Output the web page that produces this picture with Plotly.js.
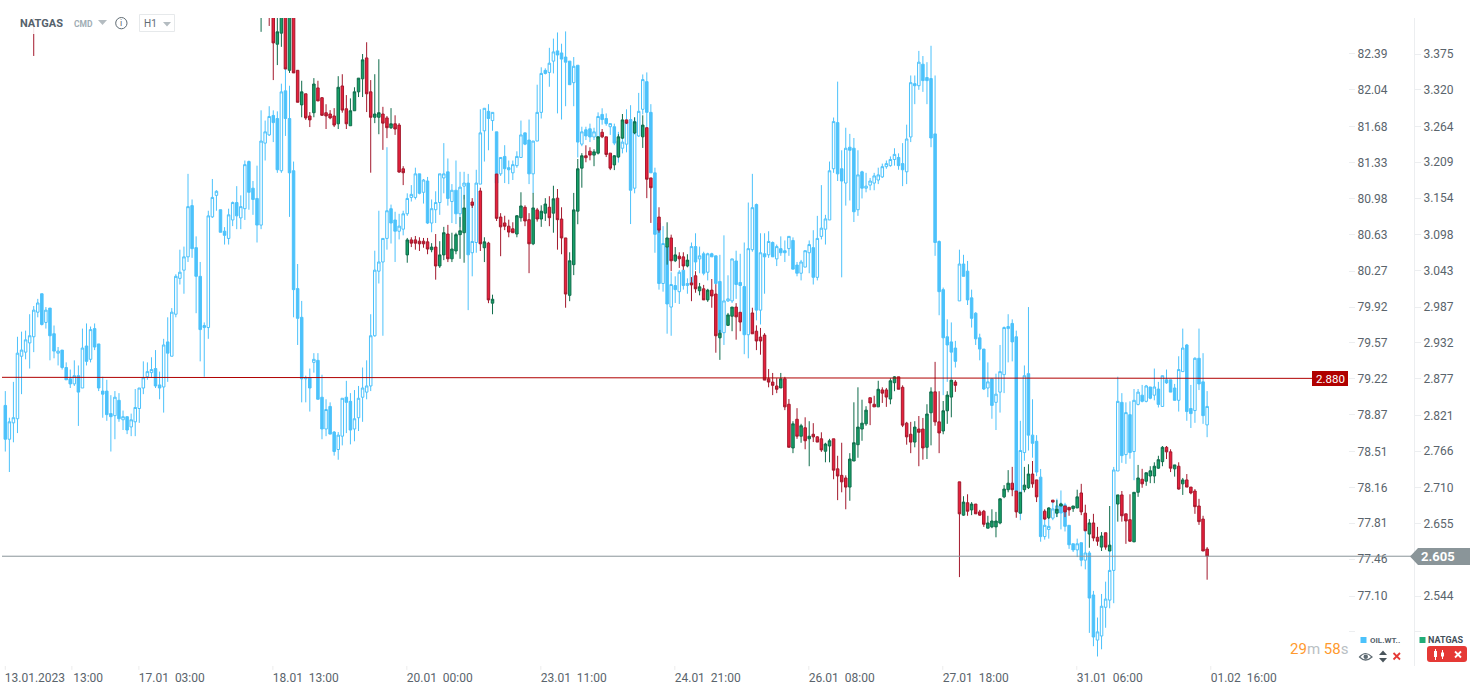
<!DOCTYPE html>
<html>
<head>
<meta charset="utf-8">
<title>NATGAS H1</title>
<script src="https://cdn.plot.ly/plotly-3.0.1.min.js"></script>
<style>html,body{margin:0;padding:0;background:#fff;overflow:hidden}</style>
</head>
<body>
<div id="chart" style="width:1482px;height:694px"></div>
<script>
// OIL.WTI hourly candles, one per bar starting at bar 0
const oilOpen = [78.96,78.63,78.79,78.83,79.44,79.48,79.57,79.63,79.87,80.05,
79.77,79.91,79.66,79.47,79.50,79.33,79.22,79.17,79.25,79.13,
79.54,79.41,79.71,79.56,79.10,79.10,78.88,78.86,79.01,78.82,
78.85,78.75,78.80,78.93,79.13,79.24,79.28,79.32,79.16,79.14,
79.58,79.44,79.85,80.20,80.28,80.41,80.91,80.50,80.22,79.72,
79.72,80.80,81.01,80.87,80.66,80.59,80.77,80.94,80.79,80.88,
81.34,81.08,80.98,80.72,81.52,81.60,81.79,81.76,81.25,82.03,
81.76,81.25,80.10,79.82,79.22,79.23,79.38,79.40,79.04,78.73,
78.95,78.70,78.53,78.66,79.04,79.00,78.73,78.84,79.04,79.09,
79.15,79.64,80.27,80.36,80.59,80.88,80.77,80.66,80.68,80.83,
80.99,80.99,81.22,81.04,81.15,80.74,80.87,80.94,81.18,81.24,
80.95,81.06,80.83,81.10,81.13,80.45,80.55,81.12,81.64,81.83,
81.74,81.63,81.22,81.39,81.28,81.23,81.30,81.38,81.62,81.55,
81.22,81.54,81.82,82.23,82.21,82.32,82.42,82.40,82.36,82.32,
82.11,82.28,81.51,81.65,81.66,81.58,81.58,81.80,81.76,81.68,
81.68,81.54,81.47,81.51,81.75,81.08,81.59,81.85,82.12,81.82,
81.23,80.74,80.15,80.51,79.92,80.13,80.07,80.28,80.13,80.15,
80.51,80.39,80.44,80.26,80.44,80.42,80.17,79.67,79.98,79.98,
80.37,80.16,80.12,79.65,80.48,80.92,79.89,80.44,80.43,80.55,
80.39,80.49,80.47,80.49,80.57,80.33,80.25,80.31,80.45,80.50,
80.21,80.61,80.68,80.77,81.27,81.72,81.27,81.13,81.48,81.47,
80.87,81.24,81.08,81.11,81.13,81.16,81.19,81.29,81.30,81.36,
81.38,81.32,81.24,81.58,82.10,82.08,82.29,82.16,82.15,81.61,
80.56,80.09,79.63,79.58,79.52,79.98,80.34,80.27,80.01,79.86,
79.62,79.51,79.13,79.22,78.99,79.09,79.26,79.71,79.76,79.63,
77.91,78.50,79.27,78.67,78.61,78.26,77.68,77.75,77.86,77.91,
78.00,77.99,77.79,77.61,77.55,77.62,77.45,77.52,77.11,76.67,
76.71,76.99,77.06,77.35,78.32,78.99,78.48,78.87,78.51,78.97,
79.06,79.00,79.14,79.06,79.12,78.95,79.21,79.21,79.13,79.01,
79.29,79.55,78.93,78.91,79.42,79.19,78.77];
const oilHigh = [79.10,78.84,79.19,79.63,79.68,79.69,79.85,79.93,80.00,80.05,
79.92,79.91,79.74,79.53,79.50,79.38,79.31,79.40,79.35,79.71,
79.76,79.73,79.76,79.56,79.24,79.21,79.06,79.10,79.08,78.91,
78.85,78.88,79.12,79.13,79.39,79.38,79.43,79.50,79.29,79.61,
79.82,79.91,80.24,80.48,80.51,81.22,80.97,80.61,80.36,79.77,
80.86,81.17,81.06,80.87,80.70,80.88,80.95,81.10,81.01,81.35,
81.35,81.15,81.30,81.84,81.74,81.88,81.84,81.83,82.10,82.38,
82.08,81.34,80.34,79.98,79.25,79.32,79.47,79.47,79.26,79.02,
78.99,78.71,78.70,79.03,79.20,79.08,79.11,79.15,79.33,79.40,
79.85,80.47,80.86,80.59,81.48,80.92,80.85,80.83,80.86,81.03,
81.11,81.28,81.22,81.17,81.19,80.97,81.05,81.22,81.52,81.37,
81.12,81.35,81.24,81.24,81.22,80.92,81.26,81.85,81.86,81.90,
81.82,81.63,81.38,81.50,81.35,81.35,81.44,81.74,81.62,81.75,
81.54,82.09,82.26,82.25,82.45,82.54,82.60,82.49,82.61,82.32,
82.36,82.28,81.68,81.68,81.71,81.67,81.82,81.86,81.81,81.71,
81.71,81.63,81.70,81.85,81.89,81.77,82.01,82.19,82.21,81.90,
81.28,80.74,80.71,80.57,80.26,80.22,80.28,80.28,80.20,80.55,
80.64,80.51,80.46,80.45,80.45,80.42,80.43,80.62,80.23,80.39,
80.47,80.44,80.55,80.94,81.22,80.93,80.64,80.64,80.66,80.56,
80.53,80.61,80.57,80.61,80.60,80.36,80.38,80.47,80.57,80.67,
80.81,81.11,80.82,81.34,81.77,82.12,81.45,81.67,81.61,81.57,
81.45,81.25,81.23,81.18,81.23,81.28,81.32,81.35,81.39,81.47,
81.42,81.52,81.70,82.18,82.18,82.42,82.37,82.31,82.47,82.18,
80.57,80.11,79.80,79.77,79.59,80.48,80.43,80.37,80.09,79.87,
79.66,79.51,79.38,79.22,79.27,79.55,79.73,79.85,79.80,79.69,
78.81,79.35,79.92,79.02,78.67,78.34,77.94,77.96,78.03,78.05,
78.13,78.01,77.79,77.61,77.66,77.62,77.75,77.54,77.15,76.89,
77.12,77.24,77.64,78.36,79.24,79.08,78.99,79.00,79.12,79.12,
79.16,79.16,79.14,79.32,79.19,79.25,79.31,79.21,79.17,79.44,
79.71,79.56,79.16,79.43,79.71,79.47,79.10];
const oilLow = [78.51,78.31,78.60,78.69,79.07,79.41,79.32,79.48,79.82,79.74,
79.71,79.40,79.42,79.35,79.31,79.21,79.13,79.15,78.76,79.13,
79.35,79.38,79.50,79.10,78.84,78.81,78.51,78.63,78.80,78.72,
78.68,78.66,78.66,78.79,79.07,79.21,79.23,79.13,79.02,78.89,
79.19,79.44,79.82,80.14,80.05,80.36,80.40,79.86,79.39,79.24,
79.61,80.79,80.86,80.65,80.53,80.53,80.71,80.68,80.68,80.77,
80.87,80.82,80.55,80.68,81.35,81.59,81.53,81.23,81.23,81.59,
80.80,79.82,79.55,78.99,78.99,78.90,79.28,79.02,78.63,78.66,
78.68,78.47,78.43,78.57,78.69,78.58,78.61,78.71,78.80,79.02,
79.10,79.63,80.15,79.64,80.48,80.54,80.36,80.58,80.62,80.81,
80.95,80.97,81.02,80.93,80.73,80.65,80.74,80.82,81.03,80.91,
80.74,80.73,80.70,80.97,79.89,80.22,80.45,81.12,81.34,81.45,
81.64,81.13,81.20,81.13,81.12,81.16,81.28,81.38,81.50,81.12,
81.03,81.54,81.76,82.19,82.07,82.20,81.81,81.75,81.88,82.09,
81.88,81.38,81.49,81.55,81.53,81.55,81.50,81.70,81.69,81.60,
81.50,81.33,81.42,81.43,80.73,81.03,81.58,81.80,81.46,81.23,
80.45,80.09,80.07,79.66,79.64,79.96,79.95,80.09,80.05,79.98,
80.28,80.25,80.23,80.18,80.41,80.14,79.61,79.55,79.97,79.96,
80.00,79.85,79.46,79.42,80.46,79.79,79.75,80.05,80.40,80.41,
80.32,80.42,80.36,80.42,80.29,80.22,80.18,80.31,80.25,80.14,
80.18,80.58,80.53,80.77,81.23,81.15,80.21,80.91,80.96,80.75,
80.81,80.98,81.04,81.06,81.06,81.12,81.18,81.27,81.29,81.30,
81.26,81.10,81.12,81.53,81.90,82.04,82.02,81.90,81.48,80.42,
79.84,79.06,79.19,79.19,79.33,79.98,80.22,79.94,79.72,79.55,
79.40,79.11,79.04,78.83,78.72,78.89,79.08,79.38,79.39,78.12,
77.84,78.42,78.52,78.45,78.27,77.63,77.65,77.66,77.84,77.87,
77.75,77.73,77.56,77.53,77.48,77.39,77.36,76.74,76.61,76.51,
76.58,76.79,76.98,77.03,78.32,78.40,78.39,78.44,78.23,78.96,
78.99,78.99,79.02,79.01,78.94,78.95,79.17,79.09,79.01,78.90,
79.29,78.81,78.74,78.79,79.11,78.78,78.65];
const oilClose = [78.63,78.80,78.84,79.47,79.50,79.60,79.64,79.89,79.96,79.75,
79.89,79.64,79.49,79.49,79.33,79.21,79.17,79.25,79.09,79.52,
79.39,79.70,79.53,79.13,79.07,78.87,78.85,79.04,78.83,78.85,
78.72,78.82,78.94,79.13,79.23,79.29,79.31,79.15,79.13,79.55,
79.47,79.87,80.22,80.26,80.41,80.90,80.49,80.22,79.70,79.74,
80.81,80.99,81.05,80.65,80.62,80.82,80.94,80.81,80.90,81.31,
81.04,80.97,80.72,81.54,81.63,81.78,81.72,81.26,82.02,81.76,
81.23,80.09,79.81,79.22,79.23,79.13,79.41,79.02,78.73,78.92,
78.68,78.51,78.67,79.03,78.99,78.72,78.83,79.03,79.13,79.15,
79.64,80.28,80.36,80.59,80.86,80.74,80.66,80.71,80.83,80.98,
81.02,81.22,81.03,81.16,80.74,80.88,80.94,81.22,81.22,80.98,
81.06,80.83,81.09,81.13,80.43,80.56,81.13,81.62,81.86,81.76,
81.82,81.13,81.38,81.27,81.26,81.31,81.39,81.60,81.51,81.22,
81.54,81.82,82.20,82.20,82.30,82.41,82.38,82.34,82.31,82.09,
82.27,81.53,81.63,81.59,81.58,81.63,81.78,81.75,81.71,81.71,
81.52,81.39,81.53,81.72,81.06,81.73,81.83,82.14,81.82,81.23,
80.63,80.15,80.54,79.95,80.14,80.09,80.26,80.13,80.15,80.51,
80.36,80.42,80.25,80.44,80.41,80.15,79.67,79.98,80.00,80.39,
80.14,80.13,79.65,80.49,80.89,79.89,80.45,80.41,80.56,80.41,
80.51,80.45,80.45,80.61,80.29,80.25,80.36,80.47,80.53,80.21,
80.59,80.69,80.78,81.25,81.73,81.22,81.15,81.47,81.45,80.85,
81.21,81.08,81.10,81.15,81.20,81.21,81.29,81.32,81.36,81.41,
81.30,81.26,81.56,82.11,82.08,82.31,82.13,82.13,81.57,80.55,
80.07,79.62,79.55,79.48,79.39,80.34,80.22,79.99,79.81,79.61,
79.51,79.12,79.19,78.96,79.07,79.29,79.72,79.73,79.58,78.12,
78.52,79.25,78.67,78.59,78.31,77.68,77.79,77.78,77.95,77.98,
77.91,77.78,77.60,77.55,77.61,77.45,77.52,77.08,76.70,76.75,
77.00,77.07,77.35,78.33,79.00,78.47,78.89,78.50,79.01,79.09,
79.00,79.15,79.03,79.14,78.97,79.25,79.18,79.09,79.01,79.31,
79.52,78.90,78.88,79.42,79.17,78.86,78.95];

// NATGAS hourly candles: one stray early bar, then every bar from natFirstBar on
const natStrayBar = 7;
const natFirstBar = 63;
const natOpen = [3.52,
3.44,null,3.48,3.47,3.390,3.407,3.47,3.350,3.44,
3.350,3.297,3.314,3.280,3.285,3.323,3.308,3.285,3.283,3.280,
3.268,3.326,3.291,3.265,3.288,3.317,3.337,3.369,3.317,3.278,
3.278,3.283,3.277,3.262,3.268,3.266,3.199,3.067,3.090,3.090,
3.088,3.088,3.087,3.075,3.079,3.050,3.067,3.099,3.061,3.073,
3.098,3.101,null,3.148,null,3.165,3.078,3.085,2.993,3.191,
3.125,3.116,3.111,3.107,3.099,3.124,3.140,3.121,3.084,3.136,
3.122,3.131,3.140,3.131,3.154,3.122,3.093,3.005,3.052,3.134,
3.200,3.219,3.226,3.220,3.223,3.255,3.248,3.223,3.205,3.217,
3.246,3.274,null,3.254,null,3.248,3.262,3.185,null,3.125,
null,3.079,3.093,3.058,3.065,3.064,3.050,3.024,3.035,3.012,
3.015,2.998,3.013,3.007,2.940,null,2.959,2.973,2.987,2.979,
null,null,2.978,2.950,2.941,2.944,2.877,2.872,2.866,2.863,
2.877,2.838,2.771,2.815,2.789,2.802,2.785,2.792,2.788,2.785,
2.766,2.774,2.785,2.739,2.729,2.725,2.711,2.751,2.776,2.800,
2.808,2.848,2.838,2.834,2.860,2.860,2.846,2.871,2.880,2.864,
2.809,2.792,2.780,2.800,2.800,2.772,2.825,2.857,2.811,2.797,
2.828,2.849,2.872,2.719,2.668,2.687,2.676,2.685,2.673,2.674,
2.648,2.650,2.650,2.656,2.696,2.707,2.717,2.705,2.671,2.707,
2.710,2.731,2.722,null,2.674,2.664,2.691,2.671,2.682,2.682,
2.680,2.678,2.679,2.702,2.671,2.639,2.656,2.634,2.619,2.641,
2.613,null,2.685,2.699,2.670,2.661,2.627,2.703,2.723,2.720,
2.728,2.728,2.740,2.750,2.772,2.765,2.739,2.743,2.716,2.722,
2.711,2.705,2.682,2.662,2.616];
const natHigh = [3.55,
3.50,null,3.50,3.48,3.44,3.50,3.50,3.50,3.45,
3.350,3.334,3.314,3.286,3.338,3.334,3.309,3.298,3.289,3.292,
3.341,3.344,3.312,3.307,3.324,3.338,3.375,3.393,3.335,3.344,
3.367,3.294,3.280,3.292,3.281,3.269,3.203,3.093,3.094,3.096,
3.094,3.093,3.093,3.085,3.099,3.088,3.110,3.113,3.101,3.101,
3.125,3.159,null,3.154,null,3.170,3.094,3.087,3.006,3.191,
3.131,3.127,3.121,3.117,3.128,3.163,3.143,3.131,3.162,3.139,
3.143,3.154,3.157,3.173,3.168,3.140,3.093,3.071,3.162,3.214,
3.223,3.235,3.232,3.229,3.248,3.260,3.248,3.223,3.220,3.252,
3.283,3.274,null,3.278,null,3.281,3.262,3.185,null,3.140,
null,3.117,3.098,3.079,3.071,3.071,3.068,3.033,3.042,3.024,
3.021,3.015,3.030,3.022,2.952,null,2.978,2.987,2.993,2.979,
null,null,2.986,2.959,2.955,2.947,2.892,2.886,2.878,2.886,
2.880,2.846,2.812,2.832,2.808,2.818,2.812,2.809,2.789,2.795,
2.779,2.785,2.785,2.759,2.779,2.729,2.763,2.841,2.864,2.845,
2.835,2.848,2.851,2.874,2.864,2.863,2.878,2.881,2.880,2.867,
2.811,2.811,2.812,2.820,2.817,2.838,2.864,2.903,2.858,2.843,
2.858,2.875,2.875,2.719,2.697,2.700,2.688,2.685,2.676,2.676,
2.667,2.677,2.673,2.694,2.714,2.737,2.742,2.705,2.703,2.742,
2.746,2.751,2.722,null,2.677,2.680,2.691,2.691,2.687,2.682,
2.680,2.682,2.707,2.716,2.684,2.662,2.670,2.650,2.642,2.641,
2.682,null,2.699,2.705,2.670,2.700,2.703,2.745,2.739,2.733,
2.743,2.749,2.759,2.774,2.774,2.769,2.745,2.749,2.725,2.731,
2.711,2.708,2.693,2.667,2.619];
const natLow = [3.372,
3.409,null,3.418,3.335,3.358,3.386,3.352,3.346,3.346,
3.301,3.278,3.274,3.263,3.278,3.303,3.280,3.260,3.275,3.263,
3.260,3.285,3.260,3.265,3.288,3.309,3.309,3.286,3.193,3.269,
3.252,3.228,3.246,3.260,3.251,3.193,3.174,3.055,3.079,3.075,
3.073,3.078,3.068,3.071,3.029,3.047,3.059,3.056,3.056,3.068,
3.061,3.055,null,3.139,null,3.073,3.056,2.993,2.976,3.119,
3.065,3.105,3.094,3.101,3.094,3.118,3.111,3.039,3.082,3.118,
3.110,3.119,3.111,3.101,3.075,3.068,2.986,2.996,3.036,3.114,
3.170,3.209,3.212,3.203,3.221,3.246,3.217,3.197,3.197,3.216,
3.245,3.268,null,3.252,null,3.231,3.154,3.116,null,3.101,
null,3.052,3.042,3.056,3.047,3.044,3.048,2.996,3.009,3.005,
2.998,2.995,2.986,2.917,2.906,null,2.958,2.950,2.937,2.950,
null,null,2.946,2.921,2.914,2.875,2.864,2.852,2.855,2.863,
2.829,2.772,2.763,2.785,2.779,2.769,2.743,2.780,2.780,2.765,
2.749,2.749,2.723,2.691,2.703,2.677,2.690,2.751,2.756,2.782,
2.805,2.806,2.834,2.834,2.840,2.834,2.838,2.858,2.861,2.803,
2.776,2.763,2.772,2.743,2.753,2.754,2.775,2.805,2.763,2.792,
2.808,2.818,2.857,2.573,2.667,2.667,2.668,2.670,2.667,2.650,
2.648,2.648,2.634,2.654,2.694,2.703,2.697,2.664,2.671,2.703,
2.708,2.710,2.688,null,2.661,2.662,2.688,2.665,2.682,2.665,
2.667,2.673,2.679,2.668,2.644,2.618,2.628,2.621,2.613,2.615,
2.613,null,2.658,2.658,2.624,2.627,2.627,2.696,2.710,2.713,
2.717,2.717,2.739,2.743,2.754,2.734,2.727,2.707,2.699,2.711,
2.700,2.670,2.653,2.613,2.569];
const natClose = [3.49,
3.47,null,3.44,3.392,3.409,3.47,3.352,3.46,3.346,
3.301,3.317,3.277,3.274,3.329,3.303,3.281,3.280,3.277,3.266,
3.324,3.289,3.268,3.288,3.317,3.338,3.366,3.314,3.278,3.283,
3.285,3.269,3.262,3.268,3.260,3.194,3.193,3.090,3.085,3.085,
3.084,3.084,3.076,3.079,3.050,3.067,3.101,3.061,3.076,3.098,
3.104,3.139,null,3.143,null,3.084,3.087,2.998,2.999,3.123,
3.110,3.111,3.102,3.101,3.127,3.142,3.119,3.084,3.139,3.122,
3.134,3.145,3.124,3.153,3.121,3.093,3.007,3.058,3.136,3.199,
3.219,3.216,3.220,3.225,3.248,3.248,3.221,3.200,3.219,3.248,
3.274,3.269,null,3.271,null,3.266,3.183,3.170,null,3.105,
null,3.093,3.058,3.067,3.061,3.050,3.059,3.021,3.015,3.018,
2.998,3.013,3.004,2.943,2.947,null,2.975,2.987,2.972,2.964,
null,null,2.946,2.935,2.935,2.875,2.872,2.867,2.861,2.877,
2.834,2.772,2.808,2.789,2.805,2.782,2.789,2.788,2.780,2.768,
2.777,2.782,2.737,2.728,2.719,2.711,2.754,2.779,2.803,2.809,
2.829,2.840,2.834,2.861,2.855,2.849,2.874,2.880,2.861,2.806,
2.788,2.780,2.803,2.795,2.771,2.823,2.857,2.811,2.794,2.828,
2.852,2.875,2.867,2.670,2.688,2.674,2.685,2.670,2.668,2.654,
2.656,2.659,2.659,2.693,2.708,2.717,2.707,2.673,2.703,2.714,
2.731,2.716,2.696,null,2.662,2.679,2.688,2.677,2.685,2.673,
2.676,2.682,2.696,2.673,2.644,2.656,2.633,2.628,2.636,2.619,
2.622,null,2.699,2.667,2.659,2.628,2.703,2.725,2.716,2.733,
2.736,2.743,2.753,2.772,2.765,2.740,2.745,2.708,2.722,2.711,
2.702,2.681,2.658,2.613,2.605];

// Axis ticks
const oilTickVals = [82.39,82.04,81.68,81.33,80.98,80.63,80.27,79.92,79.57,79.22,78.87,78.51,78.16,77.81,77.46,77.10,76.75];
const oilTickText = ["82.39","82.04","81.68","81.33","80.98","80.63","80.27","79.92","79.57","79.22","78.87","78.51","78.16","77.81","77.46","77.10",""];
const natTickVals = [3.375,3.320,3.264,3.209,3.154,3.098,3.043,2.987,2.932,2.877,2.821,2.766,2.710,2.655,2.600,2.544,2.489];
const natTickText = ["3.375","3.320","3.264","3.209","3.154","3.098","3.043","2.987","2.932","2.877","2.821","2.766","2.710","2.655","","2.544",""];
const timeTickVals = [7.3,20.4,41,74,107,140,173,206,239,272,305];
const timeTickText = ["13.01.2023","13:00","17.01 \u00a003:00","18.01 \u00a013:00","20.01 \u00a000:00","23.01 \u00a011:00","24.01 \u00a021:00","26.01 \u00a008:00","27.01 \u00a018:00","31.01 \u00a006:00","01.02 \u00a016:00"];
const timeMarkVals = [0,16.4,32.9,65.9,98.9,131.9,164.9,197.9,230.9,263.9,296.9];

const alertPrice = 2.880;
const lastPrice = 2.605;

// Colours
const oilColor = '#4cc2fb', upFill = '#17a168', upLine = '#0f6c4b', downFill = '#e8203c', downLine = '#a3182c', grayLine = '#8a9599', alertRed = '#b00000';

// Layout helpers: pixels of the page into paper fractions (for chrome only)
const plotW = 1414, plotH = 648, plotTop = 18;
const px = x => x / plotW;
const py = y => (plotTop + plotH - y) / plotH;

const bars = n => Array.from({length: n}, (_, i) => i);
const natX = [natStrayBar].concat(bars(natOpen.length - 1).map(i => i + natFirstBar));

const traces = [
  {type:'candlestick', x:bars(oilOpen.length), open:oilOpen, high:oilHigh, low:oilLow, close:oilClose,
   xaxis:'x', yaxis:'y', hoverinfo:'skip', showlegend:false,
   increasing:{line:{color:oilColor,width:1}, fillcolor:'rgba(0,0,0,0)'},
   decreasing:{line:{color:oilColor,width:1}, fillcolor:oilColor}},
  {type:'candlestick', x:natX, open:natOpen, high:natHigh, low:natLow, close:natClose,
   xaxis:'x', yaxis:'y2', hoverinfo:'skip', showlegend:false,
   increasing:{line:{color:upLine,width:1}, fillcolor:upFill},
   decreasing:{line:{color:downLine,width:1}, fillcolor:downFill}}
];

const shapes = [];
const poly = (pts, fill) => shapes.push({type:'path', xref:'paper', yref:'paper',
  path:'M'+pts.map(p=>px(p[0])+','+py(p[1])).join(' L')+' Z', fillcolor:fill, line:{width:0}});
const pline = (x0,y0,x1,y1,c,w) => shapes.push({type:'line', xref:'paper', yref:'paper',
  x0:px(x0), y0:py(y0), x1:px(x1), y1:py(y1), line:{color:c,width:w||1}});
const box = (x0,y0,x1,y1,fill,lc) => shapes.push({type:'rect', xref:'paper', yref:'paper',
  x0:px(x0), y0:py(y0), x1:px(x1), y1:py(y1), fillcolor:fill, line:{color:lc||'rgba(0,0,0,0)',width:lc?1:0}});

// Header veil over candles
box(0,18,186,34,'rgba(255,255,255,0.88)');
// Price lines
shapes.push({type:'line', xref:'paper', yref:'y2', x0:px(2), x1:px(1312), y0:alertPrice-0.0007, y1:alertPrice-0.0023, line:{color:alertRed,width:1}});
shapes.push({type:'line', xref:'paper', yref:'y2', x0:px(2), x1:px(1412), y0:lastPrice, y1:lastPrice, line:{color:grayLine,width:1}});
box(1312,371,1348,386,alertRed);
poly([[1410,556.5],[1418,548],[1470,548],[1470,565],[1418,565]], grayLine);
// Time axis tick marks
timeMarkVals.forEach(v => shapes.push({type:'line', xref:'x', yref:'paper', x0:v, x1:v, y0:0, y1:-0.006, line:{color:'#ececec',width:1}}));
// Header chrome
poly([[98,20],[107,20],[102.5,25]], '#b4bcc1');
shapes.push({type:'circle', xref:'paper', yref:'paper', x0:px(115.7), x1:px(127), y0:py(17.5), y1:py(28.8), line:{color:'#5f6b73',width:1}, fillcolor:'rgba(0,0,0,0)'});
shapes.push({type:'rect', xref:'paper', yref:'paper', x0:px(139.5), x1:px(174.5), y0:py(14.5), y1:py(31.5), line:{color:'#e6e9eb',width:1}, fillcolor:'#fff'});
poly([[163,22],[171,22],[167,26.5]], '#b4bcc1');
// Legend chrome
box(1360.5,637,1366.5,643,oilColor);
box(1419.5,637,1425.5,643,'#21ad78');
// eye
shapes.push({type:'path', xref:'paper', yref:'paper', line:{color:'#5f6b73',width:1.2}, fillcolor:'rgba(0,0,0,0)',
  path:'M'+px(1359.5)+','+py(657)+' Q'+px(1365.5)+','+py(650)+' '+px(1372)+','+py(657)+' Q'+px(1365.5)+','+py(663)+' '+px(1359.5)+','+py(657)+' Z'});
shapes.push({type:'circle', xref:'paper', yref:'paper', x0:px(1363.5), x1:px(1368), y0:py(654.5), y1:py(659), fillcolor:'#5f6b73', line:{width:0}});
// sort arrows
poly([[1379,655],[1387,655],[1383,650.5]], '#4a555c');
poly([[1379,658],[1387,658],[1383,662.5]], '#4a555c');
// red cross
pline(1393.5,653,1400,659.5,'#e53935',1.8);
pline(1400,653,1393.5,659.5,'#e53935',1.8);
// NATGAS close button
shapes.push({type:'path', xref:'paper', yref:'paper', fillcolor:'#e53935', line:{width:0},
  path:'M'+px(1430)+','+py(646)+' L'+px(1464)+','+py(646)+' Q'+px(1467)+','+py(646)+' '+px(1467)+','+py(649)+' L'+px(1467)+','+py(659)+' Q'+px(1467)+','+py(662)+' '+px(1464)+','+py(662)+' L'+px(1430)+','+py(662)+' Q'+px(1427)+','+py(662)+' '+px(1427)+','+py(659)+' L'+px(1427)+','+py(649)+' Q'+px(1427)+','+py(646)+' '+px(1430)+','+py(646)+' Z'});
box(1434,651,1437,657,'#fff');
pline(1435.5,649,1435.5,660,'#fff',1);
box(1441,652.5,1444,656.5,'#fff');
pline(1442.5,650,1442.5,659,'#fff',1);
pline(1455,651.5,1461,657.5,'#fff',1.8);
pline(1461,651.5,1455,657.5,'#fff',1.8);

const ann = (x,y,text,size,color,extra) => Object.assign({xref:'paper', yref:'paper', x:px(x), y:py(y), text:text,
  showarrow:false, xanchor:'left', yanchor:'middle', align:'left', borderpad:0,
  font:{family:'Roboto, sans-serif', size:size, color:color}}, extra||{});

const annotations = [
  ann(19,23,'<b>NATGAS</b>',11,'#55626c'),
  ann(73,24,'<b>CMD</b>',8.5,'#a0adb4'),
  ann(121.4,23,'i',9,'#5f6b73',{xanchor:'center'}),
  ann(143,23,'H1',10,'#5f6b73'),
  ann(1330,378.5,'2.880',11.5,'#ffffff',{xanchor:'center'}),
  ann(1437.5,556.5,'<b>2.605</b>',13,'#ffffff',{xanchor:'center'}),
  ann(1289,649,'<span style="color:#ff9a2e">29</span><span style="color:#b9c0c4">m</span> <span style="color:#ff9a2e">58</span><span style="color:#b9c0c4">s</span>',15,'#ff9a2e'),
  ann(1368.5,640,'<b>OIL.WT..</b>',8,'#55626c'),
  ann(1427.5,640,'<b>NATGAS</b>',9,'#44505a')
];

const tickFont = {family:'Roboto, sans-serif', size:12, color:'#5a646c'};
const layout = {
  width:1482, height:694, autosize:false,
  margin:{l:0, r:68, t:plotTop, b:28, pad:0},
  paper_bgcolor:'#ffffff', plot_bgcolor:'#ffffff',
  showlegend:false, dragmode:false, hovermode:false,
  boxgap:0.12, boxgroupgap:0.3,
  xaxis:{type:'linear', domain:[0,1348/1414], range:[-1.305,330.7], rangeslider:{visible:false},
    showgrid:false, zeroline:false, showline:false, tickmode:'array', tickvals:timeTickVals, ticktext:timeTickText,
    ticks:'outside', ticklen:1, tickcolor:'rgba(0,0,0,0)', tickfont:tickFont, tickangle:0},
  yaxis:{range:[76.417,82.741], side:'right', anchor:'x', showgrid:false, zeroline:false, showline:false,
    tickmode:'array', tickvals:oilTickVals, ticktext:oilTickText, ticks:'outside', ticklen:6, tickcolor:'#eceef0', tickfont:tickFont},
  yaxis2:{range:[2.4367,3.4302], side:'right', overlaying:'y', anchor:'free', position:1, showgrid:false, zeroline:false,
    showline:true, linecolor:'#eceef0', linewidth:1,
    tickmode:'array', tickvals:natTickVals, ticktext:natTickText, ticks:'outside', ticklen:6, tickcolor:'#eceef0', tickfont:tickFont},
  shapes:shapes, annotations:annotations
};

Plotly.newPlot('chart', traces, layout, {displayModeBar:false, staticPlot:true, responsive:false});
</script>
</body>
</html>
